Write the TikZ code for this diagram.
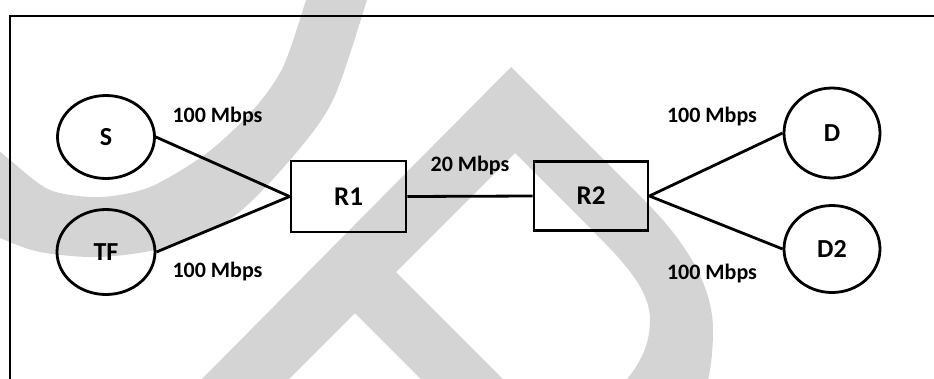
\documentclass[tikz,border=0pt]{standalone}
\usepackage{fontspec}
\setmainfont{Carlito}
\usetikzlibrary{shapes.geometric}
\definecolor{wmgray}{RGB}{212,212,212}
\begin{document}
\begin{tikzpicture}[x=1pt,y=-1pt,
  host/.style={ellipse,draw,line width=2.8pt,inner sep=0pt,
    font=\fontsize{26}{26}\selectfont\bfseries},
  router/.style={rectangle,draw,line width=2.8pt,inner sep=0pt,
    minimum width=115pt,minimum height=71pt,
    font=\fontsize{27}{27}\selectfont\bfseries},
  link/.style={line width=2.8pt},
  rate/.style={anchor=base,inner sep=0pt,
    font=\fontsize{22}{22}\selectfont\bfseries},
  frameline/.style={line width=2.2pt},
  wmshape/.style={fill=wmgray}
]
\useasboundingbox (0,0) rectangle (934,378);

% background emblem
\begin{scope}
  \clip (0,0) rectangle (934,378);
  % curved band on the left
  \fill[wmshape] plot[smooth] coordinates {(373,-20) (367,0) (333,100) (290,160) (233,217) (167,247) (100,257) (40,252) (0,238) (-20,228)}
    -- plot[smooth] coordinates {(-20,134) (10,160) (50,190) (100,197) (150,187) (207,153) (253,110) (283,67) (306,0) (311,-20)}
    -- cycle;
  % lambda-like band in the middle
  \fill[wmshape] (196,385) -- (511,67) -- (645,201)
    .. controls (685,241) and (713,285) .. (713,330)
    .. controls (713,350) and (711,368) .. (707,385)
    -- (622,385)
    .. controls (640,365) and (650,345) .. (650,320)
    .. controls (650,290) and (625,263) .. (590,228)
    -- (515,153) -- (396,272) -- (509,385) -- (427,385)
    -- (355,313) -- (283,385) -- cycle;
\end{scope}

% frame
\draw[frameline] (936,16) -- (10,16) -- (10,380);

% hosts and routers
\node[host,minimum width=97pt,minimum height=83pt] (S)  at (106,137) {S};
\node[host,minimum width=98pt,minimum height=85pt] (TF) at (106,252) {TF};
\node[router] (R1) at (348.5,196.5) {R1};
\node[router,minimum width=114pt,minimum height=69pt] (R2) at (591,196) {R2};
\node[host,minimum width=96pt,minimum height=90pt] (D)  at (832,133) {D};
\node[host,minimum width=96pt,minimum height=87pt] (D2) at (832,249) {D2};

% links
\draw[link] (S.east) -- (R1.west);
\draw[link] (TF.east) -- (R1.west);
\draw[link] (R1.east) -- (R2.west);
\draw[link] (R2.east) -- (D.west);
\draw[link] (R2.east) -- (D2.west);

% link rates
\node[rate] (rS)  at (217.5,122) {100 Mbps};
\node[rate] (rTF) at (217.5,277) {100 Mbps};
\node[rate] (rR)  at (470,171) {20 Mbps};
\node[rate] (rD)  at (712,122) {100 Mbps};
\node[rate] (rD2) at (712,279) {100 Mbps};
\end{tikzpicture}
\end{document}
